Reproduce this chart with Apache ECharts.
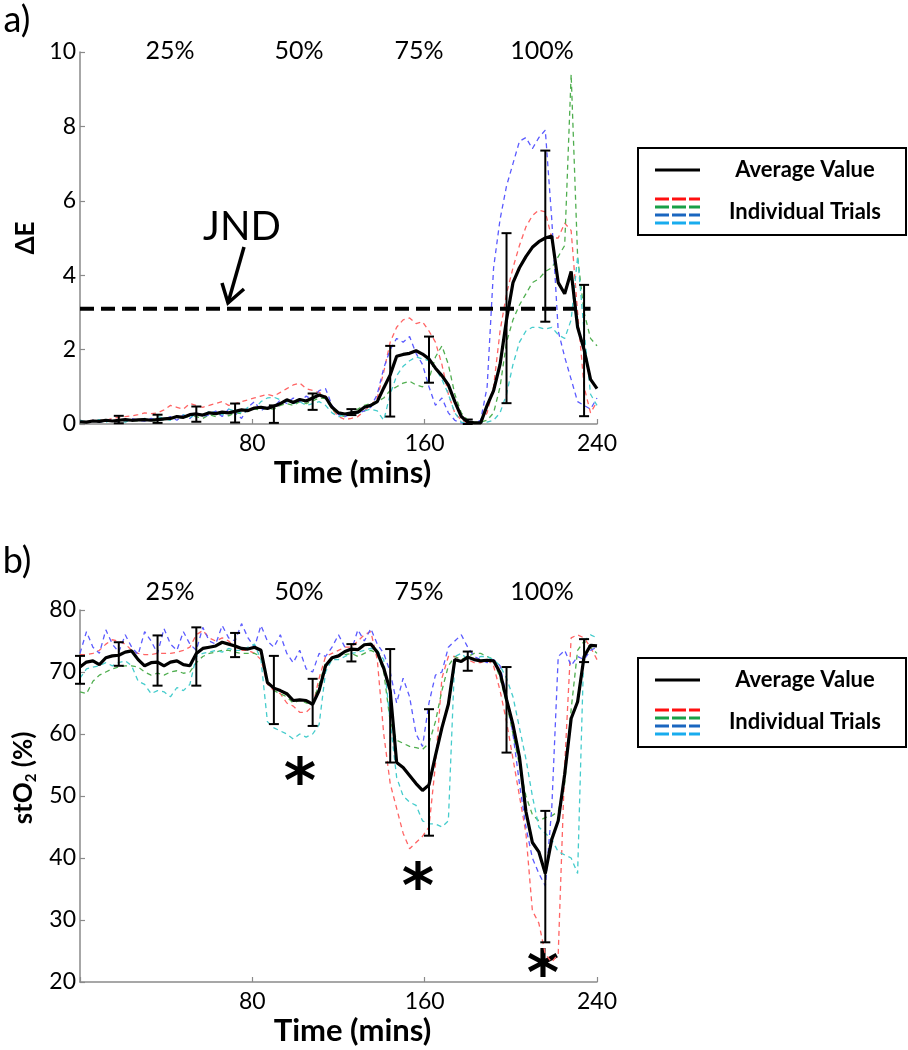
<!DOCTYPE html>
<html><head><meta charset="utf-8">
<script src="https://cdn.jsdelivr.net/npm/echarts/dist/echarts.min.js"></script>
<style>html,body{margin:0;padding:0;background:#fff}#c{width:908px;height:1050px}</style>
</head><body><div id="c"></div>
<script>
// ---------- DATA ----------
const timeMins = [0,3,6,9,12,15,18,21,24,27,30,33,36,39,42,45,48,51,54,57,60,63,66,69,72,75,78,81,84,87,90,93,96,99,102,105,108,111,114,117,120,123,126,129,132,135,138,141,144,147,150,153,156,159,162,165,168,171,174,177,180,183,186,189,192,195,198,201,204,207,210,213,216,219,222,225,228,231,234,237,240];

// Panel a) Delta E
const dEMean = [0.06,0.05,0.08,0.07,0.1,0.08,0.1,0.12,0.1,0.11,
  0.12,0.1,0.12,0.14,0.15,0.2,0.18,0.25,0.27,0.24,
  0.3,0.28,0.32,0.3,0.34,0.38,0.36,0.43,0.45,0.42,
  0.48,0.55,0.65,0.58,0.66,0.62,0.7,0.78,0.72,0.45,
  0.3,0.27,0.3,0.32,0.45,0.5,0.6,0.97,1.32,1.82,
  1.87,1.9,1.97,1.88,1.75,1.5,1.3,1.05,0.6,0.2,
  0.05,0.03,0.03,0.5,0.9,1.6,2.8,3.8,4.2,4.5,
  4.75,4.9,5.0,5.05,3.8,3.5,4.1,2.6,2.0,1.2,
  0.95];
const dERed = [0.05,0.08,0.1,0.12,0.1,0.15,0.18,0.2,0.22,0.25,
  0.3,0.28,0.3,0.38,0.5,0.45,0.4,0.55,0.5,0.45,
  0.5,0.55,0.6,0.5,0.55,0.6,0.65,0.7,0.75,0.8,
  0.75,0.85,0.95,1.05,1.1,0.95,0.9,0.85,0.75,0.4,
  0.2,0.12,0.15,0.2,0.35,0.5,0.7,1.4,2.2,2.6,
  2.8,2.85,2.7,2.75,2.5,2.2,1.6,0.8,0.3,0.1,
  0.02,0.02,0.05,0.3,1.0,2.5,3.5,4.2,4.8,5.3,
  5.6,5.75,5.7,5.0,5.0,5.4,5.2,3.0,1.0,0.3,
  0.6];
const dEBlue = [0.08,0.05,0.1,0.05,0.08,0.12,0.05,0.1,0.15,0.1,
  0.08,0.15,0.1,0.12,0.2,0.1,0.25,0.15,0.3,0.2,
  0.25,0.35,0.2,0.4,0.3,0.15,0.45,0.6,0.35,0.5,
  0.45,0.65,0.55,0.7,0.6,0.75,0.65,0.9,0.95,0.5,
  0.25,0.2,0.28,0.3,0.35,0.45,0.8,1.5,2.0,2.3,
  2.2,2.35,1.9,1.6,1.0,0.5,0.7,0.3,0.1,0.03,
  0.02,0.02,0.1,1.0,4.2,5.5,6.4,7.0,7.6,7.7,
  7.4,7.7,7.9,5.5,2.5,1.8,1.2,0.6,0.5,0.4,
  0.7];
const dEGreen = [0.04,0.06,0.1,0.05,0.08,0.1,0.06,0.12,0.1,0.08,
  0.12,0.1,0.08,0.12,0.15,0.2,0.15,0.22,0.2,0.15,
  0.25,0.2,0.28,0.22,0.3,0.28,0.35,0.4,0.38,0.42,
  0.4,0.5,0.55,0.5,0.6,0.55,0.62,0.7,0.68,0.4,
  0.25,0.2,0.3,0.4,0.5,0.55,0.6,0.7,0.9,1.0,
  1.1,1.15,1.05,1.0,1.2,1.8,2.1,1.6,0.8,0.3,
  0.1,0.05,0.05,0.1,0.3,1.0,2.2,2.8,3.2,3.5,
  3.8,3.9,4.1,4.2,4.5,4.8,9.4,4.5,3.0,2.3,
  2.1];
const dECyan = [0.1,0.05,0.08,0.12,0.05,0.1,0.08,0.05,0.12,0.1,
  0.15,0.1,0.2,0.15,0.1,0.2,0.25,0.15,0.3,0.2,
  0.35,0.3,0.25,0.4,0.35,0.3,0.45,0.4,0.6,0.7,
  0.72,0.65,0.6,0.55,0.6,0.5,0.55,0.6,0.5,0.3,
  0.2,0.25,0.3,0.3,0.35,0.4,0.35,0.1,0.8,1.3,
  1.55,1.7,1.8,1.75,1.7,1.5,1.2,0.8,0.3,0.05,
  0.03,0.03,0.04,0.05,0.1,0.3,0.8,1.6,2.2,2.5,
  2.6,2.6,2.55,2.6,2.4,2.3,2.8,4.5,2.5,0.8,
  0.5];
const dEErrTimes = [18,36,54,72,90,108,126,144,162,180,198,216,234];
const dEErrLow   = [0.02,0.03,0.06,0.04,0.03,0.38,0.24,0.2,1.11,0.0,0.56,2.75,0.21];
const dEErrHigh  = [0.22,0.25,0.47,0.55,0.5,0.82,0.4,2.1,2.35,0.12,5.13,7.35,3.74];
const jndValue = 3.1;
const jndRange = [0, 237];

// Panel b) stO2
const stMean = [70.8,71.6,71.8,71.2,72.3,72.6,72.7,73.2,73.4,72.0,
  71.0,71.5,71.6,71.0,71.6,71.8,71.2,71.0,73.0,73.8,
  74.0,74.2,74.8,74.5,74.2,73.8,73.7,74.0,73.5,68.3,
  67.4,67.0,66.5,65.4,65.5,65.4,64.8,67.0,71.0,72.3,
  72.6,73.3,73.7,73.6,74.4,74.5,73.2,70.6,67.0,55.4,
  54.6,53.3,52.0,50.9,51.8,56.5,61.0,64.8,72.0,71.7,
  72.4,72.0,71.8,71.9,71.8,69.9,65.6,61.5,56.3,47.5,
  42.5,41.0,37.5,43.0,46.0,53.5,62.5,65.2,72.5,74.3,
  74.2];
const stRed = [72.8,72.8,73,73.5,74.5,75.2,75,74.5,73.5,73,
  72.8,72.8,73,73,73,73.2,73.5,74,76,76.7,
  75.5,75,75.5,75,74,73.5,73.5,73,72,68,
  67,66.5,65,64.5,63.5,63.5,64.5,69,72.5,73,
  73.5,74,74,75,76,76.5,72,60,52,48,
  44,41.5,42.5,43.5,45,55,69,72.5,72.5,72,
  72,71.5,71.5,72,71,67,62,56,50,44,
  31.5,29.5,24.5,23.2,24.5,55,75.5,76,75.5,74,
  72];
const stBlue = [73,76.5,74,73,76.8,74.5,73.2,76,74,72.8,
  76.5,75,73,77,74.5,73.5,76.5,74.5,73.5,77.2,
  75,74.5,77.5,75.5,75,77.8,75.5,74,77.5,75,
  74,76,73,71.5,73.5,70.5,70,73,72.5,74,
  76,74,73.5,76.8,75,77,74.5,73,70,65,
  69,66,60,58,65,69.5,70,74,75,76,
  74,72.5,72,71.5,72,71,66,60,52,45,
  40,37.5,35.5,48,72.5,73.5,71,72.5,72,73.5,
  74];
const stGreen = [66.8,66.5,68.5,69.5,70,70.5,70.8,71,71,70.8,
  70,69.5,69.8,69.5,70,70.2,69.8,70,71.5,72.5,
  73,73.2,73.5,73.5,73.2,73,73,73,72.5,68.5,
  67,66.5,66,65,65.5,65,65,68,71.5,72,
  72.5,72.8,73,72.5,73,73.5,73,70,62,59,
  58.5,58,57.8,57.5,58.5,62,67,71,72.5,72,
  72.5,73,73,72.5,72,69,65,60,55,50,
  47,46,46.5,46.8,47.5,52,64,73.5,75,74,
  73];
const stCyan = [69,70.5,70.8,71,71.5,71,71.5,71.8,71,68.5,
  68,66.5,67,66.8,66,67.5,67,68,72.5,73,
  73.2,73.5,73.2,73.8,73.5,73.5,74,74.5,72,62,
  61,60.5,60,59.2,60,59.5,60,61.5,70,72,
  72,72.5,73,73.2,73.5,73.8,73.5,72,62,53,
  50,49,48.5,46,45.5,45.5,45,46,72.5,73,
  72,72,72.5,72.5,72,71,69,66,61,56,
  50,45,44,43,41,40.5,40,37.5,75,76,
  75.5];
const stErrTimes = [0,18,36,54,72,90,108,126,144,162,180,198,216,234];
const stErrLow   = [68.1,71.0,67.8,67.8,72.4,61.6,61.3,71.7,55.4,43.6,70.2,57.0,26.4,71.6];
const stErrHigh  = [72.6,74.8,75.9,77.2,76.3,72.6,68.9,74.5,73.7,64.0,73.3,70.8,47.6,75.3];

const loadLabels = ['25%','50%','75%','100%'];
const legendLabels = ['Average Value','Individual Trials'];

// ---------- CHART ----------
const F = 'Lato';
const trialColors = ['#ff6464','#4fae4f','#5a5aff','#45cccc'];
const legendColors = ['#ff1010','#18a048','#1a66c0','#18acee'];
const pairs = ys => timeMins.map((t,i)=>[t, ys[i]]);

function errRender(params, api){
  const x = api.value(0), lo = api.value(1), hi = api.value(2);
  const a = api.coord([x, lo]), b = api.coord([x, hi]);
  const w = 5, st = {stroke:'#000', lineWidth:2};
  return {type:'group', children:[
    {type:'line', shape:{x1:a[0],y1:a[1],x2:b[0],y2:b[1]}, style:st},
    {type:'line', shape:{x1:a[0]-w,y1:a[1],x2:a[0]+w,y2:a[1]}, style:st},
    {type:'line', shape:{x1:b[0]-w,y1:b[1],x2:b[0]+w,y2:b[1]}, style:st}
  ]};
}

function xAxis(g){
  return {type:'value', gridIndex:g, min:0, max:240, interval:80,
    axisLine:{show:true, onZero:false, lineStyle:{color:'#8a8a8a', width:1.5}},
    axisTick:{show:true, inside:true, length:5, lineStyle:{color:'#8a8a8a', width:1.2}},
    axisLabel:{color:'#000', fontFamily:F, fontSize:23, margin:8, formatter:v=> v===0?'':String(v)},
    splitLine:{show:false},
    name:'Time (mins)', nameLocation:'middle', nameGap:33,
    nameTextStyle:{fontFamily:F, fontWeight:'bold', fontSize:31, color:'#000', padding:[0,0,0,28]}
  };
}
function yAxis(g, min, max, step, name, extra){
  return Object.assign({type:'value', gridIndex:g, min:min, max:max, interval:step,
    axisLine:{show:true, onZero:false, lineStyle:{color:'#8a8a8a', width:1.5}},
    axisTick:{show:true, inside:true, length:5, lineStyle:{color:'#8a8a8a', width:1.2}},
    axisLabel:{color:'#000', fontFamily:F, fontSize:23, margin:4},
    splitLine:{show:false},
    name:name, nameLocation:'middle', nameGap:28, nameRotate:90
  }, extra);
}

const series = [];
function addPanel(g, trials, mean, eT, eL, eH){
  trials.forEach((arr,k)=>{
    series.push({type:'line', xAxisIndex:g, yAxisIndex:g, data:pairs(arr), symbol:'none',
      lineStyle:{color:trialColors[k], width:1.3, type:[5,4]}, z:2, silent:true});
  });
  series.push({type:'line', xAxisIndex:g, yAxisIndex:g, data:pairs(mean), symbol:'none',
    lineStyle:{color:'#000', width:3.2}, z:4, silent:true});
  series.push({type:'custom', xAxisIndex:g, yAxisIndex:g, renderItem:errRender,
    data:eT.map((t,i)=>[t, eL[i], eH[i]]), encode:{x:0, y:[1,2]}, z:6, silent:true});
}
addPanel(0, [dERed, dEGreen, dEBlue, dECyan], dEMean, dEErrTimes, dEErrLow, dEErrHigh);
addPanel(1, [stRed, stGreen, stBlue, stCyan], stMean, stErrTimes, stErrLow, stErrHigh);
series.push({type:'line', xAxisIndex:0, yAxisIndex:0, data:jndRange.map(t=>[t, jndValue]), symbol:'none',
  lineStyle:{color:'#000', width:4, type:[14,7]}, z:5, silent:true});

// annotations
const pctX = [170, 299, 419, 542];
const graphic = [];
function txt(x,y,text,size,weight,family){
  graphic.push({type:'text', x:x, y:y, silent:true, style:{text:text, fontSize:size, fontWeight:weight||'normal',
    fontFamily:family||F, fill:'#000', align:'center', verticalAlign:'middle'}});
}
txt(17, 20, 'a)', 36);
txt(17, 561, 'b)', 36);
loadLabels.forEach((s,i)=>{ txt(pctX[i], 51, s, 25); txt(pctX[i], 592, s, 25); });
txt(242, 227, 'JND', 40);
graphic.push({type:'polyline', silent:true, shape:{points:[[244,247],[228,303]]}, style:{stroke:'#000', lineWidth:3.5, fill:null}});
graphic.push({type:'polyline', silent:true, shape:{points:[[222,283],[228,303],[244,289]]}, style:{stroke:'#000', lineWidth:3.5, fill:null}});
// asterisks (significance)
txt(300, 786, '*', 62, 'bold', 'DejaVu Sans');
txt(418, 891, '*', 62, 'bold', 'DejaVu Sans');
txt(543, 978, '*', 62, 'bold', 'DejaVu Sans');

function legend(top, h, meanY, trialYs, textY2){
  graphic.push({type:'rect', silent:true, shape:{x:638, y:top, width:268, height:h}, style:{fill:'#fff', stroke:'#000', lineWidth:2}});
  graphic.push({type:'line', silent:true, shape:{x1:655,y1:meanY,x2:700,y2:meanY}, style:{stroke:'#000', lineWidth:3}});
  trialYs.forEach((y,k)=>{
    graphic.push({type:'line', silent:true, shape:{x1:655,y1:y,x2:700,y2:y}, style:{stroke:legendColors[k], lineWidth:3, lineDash:[14,3]}});
  });
  txt(805, meanY, legendLabels[0], 22, 'bold');
  txt(805, textY2, legendLabels[1], 22, 'bold');
}
legend(148, 87, 170, [199,207,215,223], 212);
legend(658, 89, 680, [710,718,726,734], 722);

const chart = echarts.init(document.getElementById('c'), null, {renderer:'canvas'});
chart.setOption({
  animation:false,
  backgroundColor:'#fff',
  grid:[{left:80, top:52, width:517, height:372, outerBoundsMode:'none'},
        {left:80, top:610, width:517, height:372, outerBoundsMode:'none'}],
  xAxis:[xAxis(0), xAxis(1)],
  yAxis:[
    yAxis(0, 0, 10, 2, 'ΔE', {nameTextStyle:{fontFamily:F, fontWeight:'bold', fontSize:26, color:'#000'}}),
    yAxis(1, 20, 80, 10, '{n|stO}{s|2}{n| (%)}', {nameTextStyle:{padding:[0,0,0,36], rich:{
      n:{fontFamily:F, fontWeight:'bold', fontSize:26, color:'#000', lineHeight:30},
      s:{fontFamily:F, fontWeight:'bold', fontSize:15, color:'#000', lineHeight:15, verticalAlign:'bottom'}}}})
  ],
  series:series,
  graphic:graphic
});
</script></body></html>
